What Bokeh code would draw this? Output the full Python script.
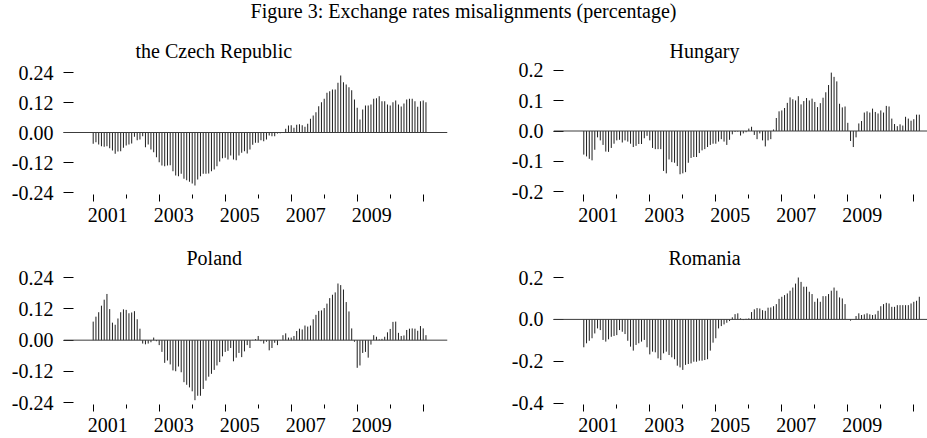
from bokeh.plotting import figure
from bokeh.models import (Range1d, FixedTicker, LinearAxis, NumeralTickFormatter,
                          Span, Div, ColumnDataSource, CustomLabelingPolicy)
from bokeh.layouts import column, row
from bokeh.embed import file_html
from bokeh.resources import INLINE

# ---------------- data (monthly, starting January 2001) ----------------
start_year = 2001

czech = [
    -0.045, -0.039, -0.048, -0.055, -0.057, -0.055, -0.063, -0.072, -0.085, -0.076,
    -0.075, -0.061, -0.052, -0.048, -0.044, -0.017, -0.031, -0.028, -0.015, -0.059,
    -0.048, -0.068, -0.079, -0.099, -0.119, -0.132, -0.135, -0.132, -0.131, -0.155,
    -0.172, -0.175, -0.165, -0.185, -0.191, -0.197, -0.204, -0.212, -0.188, -0.175,
    -0.165, -0.165, -0.164, -0.155, -0.148, -0.135, -0.116, -0.103, -0.101, -0.108,
    -0.092, -0.108, -0.111, -0.092, -0.081, -0.075, -0.084, -0.068, -0.049, -0.041,
    -0.041, -0.031, -0.035, -0.028, -0.012, -0.015, -0.015, -0.004, -0.003, 0.000,
    0.015, 0.028, 0.029, 0.019, 0.031, 0.033, 0.029, 0.023, 0.035, 0.055,
    0.068, 0.081, 0.105, 0.121, 0.135, 0.159, 0.165, 0.172, 0.172, 0.199,
    0.228, 0.201, 0.192, 0.181, 0.169, 0.132, 0.099, 0.052, 0.092, 0.108,
    0.108, 0.112, 0.135, 0.137, 0.145, 0.125, 0.125, 0.112, 0.108, 0.121,
    0.128, 0.112, 0.104, 0.116, 0.132, 0.135, 0.135, 0.125, 0.103, 0.125,
    0.128, 0.121,
]

hungary = [
    -0.078, -0.084, -0.092, -0.097, -0.062, -0.021, -0.031, -0.046, -0.068, -0.069,
    -0.056, -0.042, -0.031, -0.029, -0.038, -0.031, -0.035, -0.042, -0.053, -0.049,
    -0.043, -0.043, -0.024, -0.016, -0.031, -0.056, -0.060, -0.060, -0.060, -0.132,
    -0.140, -0.094, -0.103, -0.105, -0.116, -0.143, -0.140, -0.136, -0.105, -0.089,
    -0.086, -0.086, -0.073, -0.064, -0.060, -0.053, -0.046, -0.042, -0.042, -0.035,
    -0.027, -0.035, -0.046, -0.029, -0.011, -0.003, -0.002, -0.015, -0.008, -0.004,
    0.008, 0.014, -0.013, -0.027, -0.008, -0.031, -0.051, -0.031, -0.027, 0.005,
    0.043, 0.065, 0.068, 0.076, 0.093, 0.111, 0.105, 0.101, 0.115, 0.088,
    0.099, 0.109, 0.101, 0.107, 0.096, 0.079, 0.092, 0.110, 0.128, 0.152,
    0.193, 0.179, 0.164, 0.090, 0.078, 0.081, 0.027, -0.033, -0.053, -0.021,
    0.025, 0.033, 0.061, 0.065, 0.061, 0.074, 0.063, 0.058, 0.068, 0.061,
    0.083, 0.081, 0.041, 0.023, 0.016, 0.022, 0.018, 0.047, 0.041, 0.034,
    0.039, 0.054, 0.054,
]

poland = [
    0.071, 0.090, 0.107, 0.132, 0.155, 0.177, 0.119, 0.067, 0.059, 0.083,
    0.107, 0.118, 0.116, 0.103, 0.106, 0.111, 0.080, 0.044, -0.013, -0.016,
    -0.013, -0.008, 0.010, -0.004, -0.019, -0.045, -0.087, -0.078, -0.093, -0.116,
    -0.119, -0.101, -0.123, -0.161, -0.171, -0.181, -0.196, -0.230, -0.213, -0.213,
    -0.187, -0.155, -0.140, -0.129, -0.114, -0.097, -0.084, -0.062, -0.045, -0.041,
    -0.030, -0.081, -0.067, -0.049, -0.065, -0.043, -0.019, -0.030, 0.001, 0.004,
    0.016, -0.004, -0.013, -0.006, -0.039, -0.030, -0.010, -0.019, 0.001, 0.019,
    0.026, 0.010, 0.010, 0.016, 0.035, 0.044, 0.041, 0.056, 0.052, 0.056,
    0.080, 0.097, 0.112, 0.114, 0.123, 0.140, 0.161, 0.174, 0.183, 0.217,
    0.211, 0.194, 0.146, 0.110, 0.045, -0.006, -0.106, -0.097, -0.049, -0.045,
    -0.067, -0.017, 0.019, 0.013, 0.003, 0.005, 0.013, 0.030, 0.043, 0.070,
    0.071, 0.028, 0.016, 0.018, 0.039, 0.044, 0.045, 0.044, 0.036, 0.054,
    0.045, 0.019,
]

romania = [
    -0.133, -0.114, -0.102, -0.090, -0.067, -0.043, -0.051, -0.098, -0.106, -0.095,
    -0.083, -0.079, -0.075, -0.051, -0.059, -0.070, -0.102, -0.130, -0.149, -0.122,
    -0.114, -0.106, -0.098, -0.133, -0.167, -0.154, -0.157, -0.186, -0.194, -0.162,
    -0.154, -0.170, -0.181, -0.190, -0.221, -0.229, -0.241, -0.217, -0.213, -0.210,
    -0.202, -0.202, -0.197, -0.197, -0.194, -0.190, -0.149, -0.111, -0.090, -0.043,
    -0.032, -0.024, -0.016, -0.008, 0.010, 0.025, 0.029, 0.005, -0.003, 0.003,
    0.005, 0.035, 0.048, 0.054, 0.052, 0.044, 0.041, 0.056, 0.057, 0.063,
    0.073, 0.098, 0.108, 0.116, 0.124, 0.137, 0.152, 0.171, 0.200, 0.179,
    0.156, 0.156, 0.132, 0.121, 0.084, 0.100, 0.084, 0.111, 0.111, 0.121,
    0.137, 0.152, 0.137, 0.105, 0.100, 0.073, 0.000, -0.006, 0.000, 0.016,
    0.029, 0.021, 0.024, 0.029, 0.024, 0.021, 0.024, 0.041, 0.063, 0.073,
    0.079, 0.076, 0.060, 0.060, 0.068, 0.068, 0.068, 0.068, 0.068, 0.076,
    0.084, 0.089, 0.108,
]

main_title = "Figure 3: Exchange rates misalignments (percentage)"
panel_titles = ["the Czech Republic", "Hungary", "Poland", "Romania"]
year_ticks = [2001, 2003, 2005, 2007, 2009, 2011]
year_minor = [2002, 2004, 2006, 2008, 2010]
year_labels = [2001, 2003, 2005, 2007, 2009]
yticks_cz_pl = [-0.24, -0.12, 0.0, 0.12, 0.24]
yticks_hu = [-0.2, -0.1, 0.0, 0.1, 0.2]
yticks_ro = [-0.4, -0.2, 0.0, 0.2]

FONT = "Liberation Serif"

HIDE_ALL = CustomLabelingPolicy(code="""
for (const i of indices) { indices.unset(i) }
return indices
""")


def make_panel(values, title, title_offset, title_standoff, yticks, yfmt, xr, yr,
               width, height, b_left, b_right, b_top, b_bottom, label_standoff):
    p = figure(width=width, height=height, output_backend="svg",
               toolbar_location=None, x_range=Range1d(*xr), y_range=Range1d(*yr),
               min_border_left=b_left, min_border_right=b_right,
               min_border_top=b_top, min_border_bottom=b_bottom)
    p.outline_line_color = None
    p.grid.visible = False
    p.background_fill_color = "white"
    p.border_fill_color = "white"

    p.title.text = title
    p.title.align = "left"
    p.title.offset = title_offset
    p.title.text_font = FONT
    p.title.text_font_size = "20px"
    p.title.text_font_style = "normal"
    p.title.text_color = "black"
    p.title.standoff = title_standoff

    xs = [start_year + i / 12.0 for i in range(len(values))]
    src = ColumnDataSource(dict(x=xs, y0=[0.0] * len(values), y1=values))
    p.segment(x0="x", y0="y0", x1="x", y1="y1", source=src,
              line_color="#1e1e1e", line_width=1)
    p.add_layout(Span(location=0, dimension="width", line_color="#3c3c3c",
                      line_width=1))

    # x axis with tick marks only (tall at odd years, short at even years)
    xa = p.xaxis[0]
    xa.ticker = FixedTicker(ticks=year_ticks, minor_ticks=year_minor)
    xa.axis_line_color = None
    xa.major_tick_in = 0
    xa.major_tick_out = 7
    xa.minor_tick_in = 0
    xa.minor_tick_out = 4
    xa.major_tick_line_color = "black"
    xa.minor_tick_line_color = "black"
    xa.major_label_policy = HIDE_ALL
    xa.major_label_text_font_size = "1px"
    xa.major_label_standoff = 0

    # x axis carrying the year labels (placed just after each year tick)
    lab = LinearAxis(ticker=FixedTicker(ticks=[y + 0.44 for y in year_labels], minor_ticks=[]),
                     formatter=NumeralTickFormatter(format="0"))
    lab.axis_line_color = None
    lab.major_tick_in = 0
    lab.major_tick_out = 0
    lab.minor_tick_in = 0
    lab.minor_tick_out = 0
    lab.major_label_standoff = label_standoff
    lab.major_label_text_font = FONT
    lab.major_label_text_font_size = "20px"
    lab.major_label_text_color = "black"
    p.add_layout(lab, "below")

    ya = p.yaxis[0]
    ya.ticker = FixedTicker(ticks=yticks, minor_ticks=[])
    ya.formatter = NumeralTickFormatter(format=yfmt)
    ya.axis_line_color = None
    ya.major_tick_in = 10
    ya.major_tick_out = 0
    ya.minor_tick_in = 0
    ya.minor_tick_out = 0
    ya.major_tick_line_color = "black"
    ya.major_label_standoff = 10
    ya.major_label_text_font = FONT
    ya.major_label_text_font_size = "20px"
    ya.major_label_text_color = "black"
    return p


# top row: canvas y 28..226, frame 68..194 ; bottom row: canvas 226..438, frame 272..404
p1 = make_panel(czech, panel_titles[0], 72, 13, yticks_cz_pl, "0.00",
                (2000.10, 2011.736), (-0.248, 0.256),
                490, 198, 63, 43, 40, 32, 2)
p2 = make_panel(hungary, panel_titles[1], 116, 13, yticks_hu, "0.0",
                (2000.082, 2011.415), (-0.2099, 0.2066),
                437, 198, 63, 0, 40, 32, 2)
p3 = make_panel(poland, panel_titles[2], 123, 7, yticks_cz_pl, "0.00",
                (2000.10, 2011.736), (-0.2465, 0.2592),
                490, 212, 63, 43, 46, 34, 2)
p4 = make_panel(romania, panel_titles[3], 115, 7, yticks_ro, "0.0",
                (2000.082, 2011.415), (-0.4062, 0.2239),
                437, 212, 63, 0, 46, 34, 2)

title_div = Div(
    text=('<div style="font-family:\'Liberation Serif\';font-size:20px;'
          'line-height:23px;text-align:center;white-space:nowrap;color:black;'
          'width:927px;">' + main_title + '</div>'),
    width=927, height=28, margin=(0, 0, 0, 0))

layout = column(title_div, row(p1, p2), row(p3, p4))

open("out.html", "w").write(file_html(layout, INLINE))
